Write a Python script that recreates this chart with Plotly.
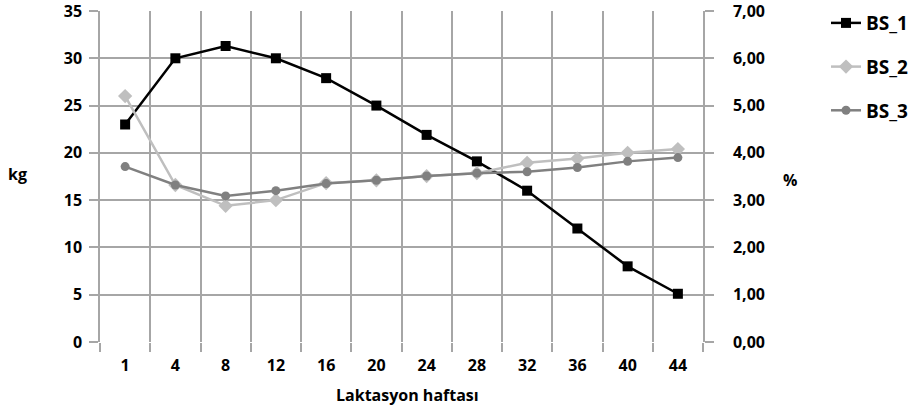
import plotly.graph_objects as go

# Lactation weeks (category axis)
weeks = ["1", "4", "8", "12", "16", "20", "24", "28", "32", "36", "40", "44"]

# Milk yield, kg (left axis)
bs_1 = [23.0, 30.0, 31.3, 30.0, 27.9, 25.0, 21.9, 19.1, 16.0, 12.0, 8.0, 5.1]
# Percent values (right axis)
bs_2 = [5.20, 3.32, 2.88, 3.00, 3.36, 3.42, 3.51, 3.57, 3.79, 3.88, 4.00, 4.08]
bs_3 = [3.71, 3.32, 3.09, 3.20, 3.35, 3.42, 3.51, 3.57, 3.60, 3.69, 3.82, 3.90]

FONT = "Open Sans"
GRID = "#a6a6a6"
TICKFONT = dict(family=FONT, size=16, color="#000000", weight="bold")

fig = go.Figure()
fig.add_trace(go.Scatter(
    x=weeks, y=bs_1, name="BS_1", mode="lines+markers", legendgroup="a",
    line=dict(color="#000000", width=2.5),
    marker=dict(symbol="square", size=10, color="#000000"),
))
fig.add_trace(go.Scatter(
    x=weeks, y=bs_2, name="BS_2", mode="lines+markers", yaxis="y2", legendgroup="b",
    line=dict(color="#bfbfbf", width=2.5),
    marker=dict(symbol="diamond", size=11, color="#bfbfbf"),
))
fig.add_trace(go.Scatter(
    x=weeks, y=bs_3, name="BS_3", mode="lines+markers", yaxis="y2", legendgroup="c",
    line=dict(color="#808080", width=2.5),
    marker=dict(symbol="circle", size=9, color="#808080"),
))

fig.update_layout(
    width=922, height=410,
    margin=dict(l=100, r=219, t=11, b=68, autoexpand=False),
    paper_bgcolor="white", plot_bgcolor="white",
    font=dict(family=FONT, size=16, color="#000000", weight="bold"),
    separators=",.",
    xaxis=dict(
        type="category", range=[-0.5, 11.5], tickson="boundaries",
        showgrid=True, gridcolor=GRID, gridwidth=1.5,
        showline=False, zeroline=False, automargin=False,
        ticks="outside", ticklen=9, tickcolor=GRID, tickwidth=1.5,
        ticklabelstandoff=12, tickfont=TICKFONT, ticklabeloverflow="allow",
    ),
    yaxis=dict(
        range=[0, 35], dtick=5, showgrid=True, gridcolor=GRID, gridwidth=1.5,
        showline=True, linecolor=GRID, linewidth=1.5, zeroline=False, automargin=False,
        ticks="outside", ticklen=9, tickcolor=GRID, tickwidth=1.5,
        ticklabelstandoff=4, tickfont=TICKFONT, ticklabeloverflow="allow",
    ),
    yaxis2=dict(
        range=[0, 7], dtick=1, tickformat=".2f", overlaying="y", side="right",
        showgrid=False, showline=True, linecolor=GRID, linewidth=1.5, zeroline=False,
        automargin=False,
        ticks="outside", ticklen=9, tickcolor=GRID, tickwidth=1.5,
        ticklabelstandoff=16, tickfont=TICKFONT, ticklabeloverflow="allow",
    ),
    legend=dict(
        x=1.204, y=1.021, xanchor="left", yanchor="top",
        font=dict(family=FONT, size=19, weight="bold"),
        tracegroupgap=16, bgcolor="rgba(0,0,0,0)",
    ),
    annotations=[
        dict(text="kg", xref="paper", yref="paper", x=-0.1376, y=0.5076, showarrow=False,
             xanchor="center", yanchor="middle", font=dict(size=16, weight="bold")),
        dict(text="%", xref="paper", yref="paper", x=1.144, y=0.49, showarrow=False,
             xanchor="center", yanchor="middle", font=dict(size=16, weight="bold")),
        dict(text="Laktasyon haftası", xref="paper", yref="paper", x=0.51, y=-0.16,
             showarrow=False, xanchor="center", yanchor="middle",
             font=dict(size=16, weight="bold")),
    ],
)

fig.write_html("out.html")
